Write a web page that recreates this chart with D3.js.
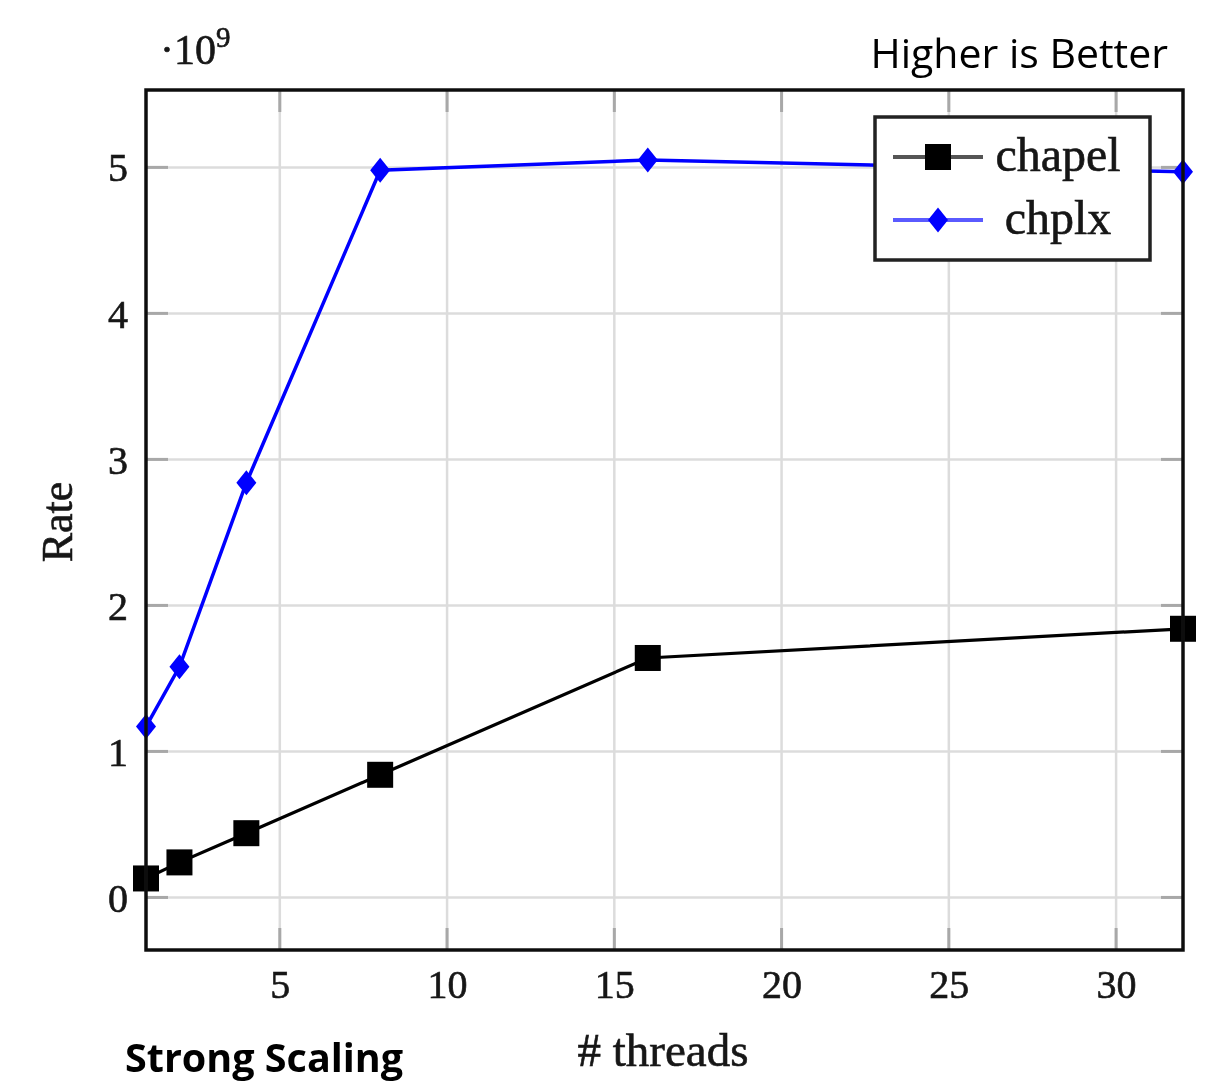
<!DOCTYPE html>
<html>
<head>
<meta charset="utf-8">
<script src="https://cdn.jsdelivr.net/npm/d3@7"></script>
<style>
  html, body { margin: 0; padding: 0; background: #fff; }
  svg { display: block; }
</style>
</head>
<body>
<script>
// Rate (×10^9) versus number of threads
const threads = [1, 2, 4, 8, 16, 32];
const chapelRate = [0.13, 0.24, 0.44, 0.84, 1.64, 1.84];
const chplxRate = [1.17, 1.58, 2.84, 4.98, 5.05, 4.97];
const xTicks = [5, 10, 15, 20, 25, 30];
const yTicks = [0, 1, 2, 3, 4, 5];
const seriesNames = ["chapel", "chplx"];

const W = 1223, H = 1086;
const plotL = 146, plotR = 1183, plotT = 90, plotB = 950;
const serif = "'Liberation Serif', 'DejaVu Serif', serif";
const sans = "'Open Sans', 'Liberation Sans', sans-serif";
const ink = "#151515";

const svg = d3.select("body").append("svg")
  .attr("width", W).attr("height", H);

svg.append("defs").append("filter").attr("id", "soft")
  .append("feGaussianBlur").attr("stdDeviation", 0.6);

const x = d3.scaleLinear().domain([1, 32]).range([plotL, plotR]);
const y = d3.scaleLinear().domain([-0.36, 5.53]).range([plotB, plotT]);

const chart = svg.append("g").attr("filter", "url(#soft)");

// grid
chart.append("g").selectAll("line").data(xTicks).join("line")
  .attr("x1", d => x(d)).attr("x2", d => x(d))
  .attr("y1", plotT).attr("y2", plotB)
  .attr("stroke", "#dcdcdc").attr("stroke-width", 2.5);
chart.append("g").selectAll("line").data(yTicks).join("line")
  .attr("y1", d => y(d)).attr("y2", d => y(d))
  .attr("x1", plotL).attr("x2", plotR)
  .attr("stroke", "#dcdcdc").attr("stroke-width", 2.5);

// inward tick marks
const tl = 22;
const tickG = chart.append("g").attr("stroke", "#a8a8a8").attr("stroke-width", 3);
xTicks.forEach(t => {
  tickG.append("line").attr("x1", x(t)).attr("x2", x(t)).attr("y1", plotB).attr("y2", plotB - tl);
  tickG.append("line").attr("x1", x(t)).attr("x2", x(t)).attr("y1", plotT).attr("y2", plotT + tl);
});
yTicks.forEach(t => {
  tickG.append("line").attr("y1", y(t)).attr("y2", y(t)).attr("x1", plotL).attr("x2", plotL + tl);
  tickG.append("line").attr("y1", y(t)).attr("y2", y(t)).attr("x1", plotR).attr("x2", plotR - tl);
});

// serif text helper: slightly heavier strokes
const heavy = sel => sel.attr("font-family", serif).attr("fill", ink)
  .attr("stroke", ink).attr("stroke-width", 0.6);

// axis labels via d3 axes
const xAxis = chart.append("g").attr("transform", `translate(0,${plotB})`)
  .call(d3.axisBottom(x).tickValues(xTicks).tickFormat(d3.format("d")).tickSize(0).tickPadding(20));
const yAxis = chart.append("g").attr("transform", `translate(${plotL},0)`)
  .call(d3.axisLeft(y).tickValues(yTicks).tickFormat(d3.format("d")).tickSize(0).tickPadding(18));
[xAxis, yAxis].forEach(a => {
  a.select(".domain").remove();
  a.selectAll("text").call(heavy).attr("font-size", 40);
});
xAxis.selectAll("text").attr("dy", "0.71em");
yAxis.selectAll("text").attr("dy", "0.34em");

// series
const line = d3.line().x(d => x(d[0])).y(d => y(d[1]));
const chapelPts = threads.map((t, i) => [t, chapelRate[i]]);
const chplxPts = threads.map((t, i) => [t, chplxRate[i]]);

chart.append("path").datum(chapelPts).attr("d", line)
  .attr("fill", "none").attr("stroke", "#000").attr("stroke-width", 3.2);
chart.append("path").datum(chplxPts).attr("d", line)
  .attr("fill", "none").attr("stroke", "#0000ff").attr("stroke-width", 3.5);

const sq = 26;
chart.append("g").selectAll("rect").data(chapelPts).join("rect")
  .attr("x", d => x(d[0]) - sq / 2).attr("y", d => y(d[1]) - sq / 2)
  .attr("width", sq).attr("height", sq).attr("fill", "#000");

const diamond = (cx, cy) => `M${cx},${cy - 12.5}L${cx + 10},${cy}L${cx},${cy + 12.5}L${cx - 10},${cy}Z`;
chart.append("g").selectAll("path").data(chplxPts).join("path")
  .attr("d", d => diamond(x(d[0]), y(d[1]))).attr("fill", "#0000ff");

// frame
chart.append("rect").attr("x", plotL).attr("y", plotT)
  .attr("width", plotR - plotL).attr("height", plotB - plotT)
  .attr("fill", "none").attr("stroke", "#111").attr("stroke-width", 3.5);

// legend
const lg = chart.append("g");
lg.append("rect").attr("x", 875).attr("y", 117).attr("width", 275).attr("height", 143)
  .attr("fill", "#fff").attr("stroke", "#222").attr("stroke-width", 3.5);
const legY = [157, 220];
lg.append("line").attr("x1", 893).attr("x2", 983).attr("y1", legY[0]).attr("y2", legY[0])
  .attr("stroke", "#555").attr("stroke-width", 4);
lg.append("rect").attr("x", 938 - sq / 2).attr("y", legY[0] - sq / 2)
  .attr("width", sq).attr("height", sq).attr("fill", "#000");
lg.append("line").attr("x1", 893).attr("x2", 983).attr("y1", legY[1]).attr("y2", legY[1])
  .attr("stroke", "#5a5aff").attr("stroke-width", 4);
lg.append("path").attr("d", diamond(938, legY[1])).attr("fill", "#0000ff");
lg.selectAll("text").data(seriesNames).join("text")
  .attr("x", 1058).attr("y", (d, i) => legY[i] + 14)
  .attr("text-anchor", "middle").attr("font-size", 48)
  .call(heavy).text(d => d);

// axis titles and exponent
chart.append("text").attr("x", 663).attr("y", 1066).attr("text-anchor", "middle")
  .attr("font-size", 47).call(heavy).text("# threads");
chart.append("text").attr("transform", "translate(72,522) rotate(-90)")
  .attr("text-anchor", "middle").attr("font-size", 44)
  .call(heavy).text("Rate");
const expo = chart.append("text").attr("x", 160).attr("y", 64)
  .attr("font-size", 42).call(heavy);
expo.append("tspan").text("·10");
expo.append("tspan").attr("dy", -17).attr("font-size", 29).text("9");

// annotations
svg.append("text").attr("x", 1168).attr("y", 68).attr("text-anchor", "end")
  .attr("font-family", sans).attr("font-size", 41).attr("fill", "#000").text("Higher is Better");
svg.append("text").attr("x", 125).attr("y", 1072)
  .attr("font-family", sans).attr("font-size", 39.5).attr("font-weight", "bold")
  .attr("fill", "#000").text("Strong Scaling");
</script>
</body>
</html>
